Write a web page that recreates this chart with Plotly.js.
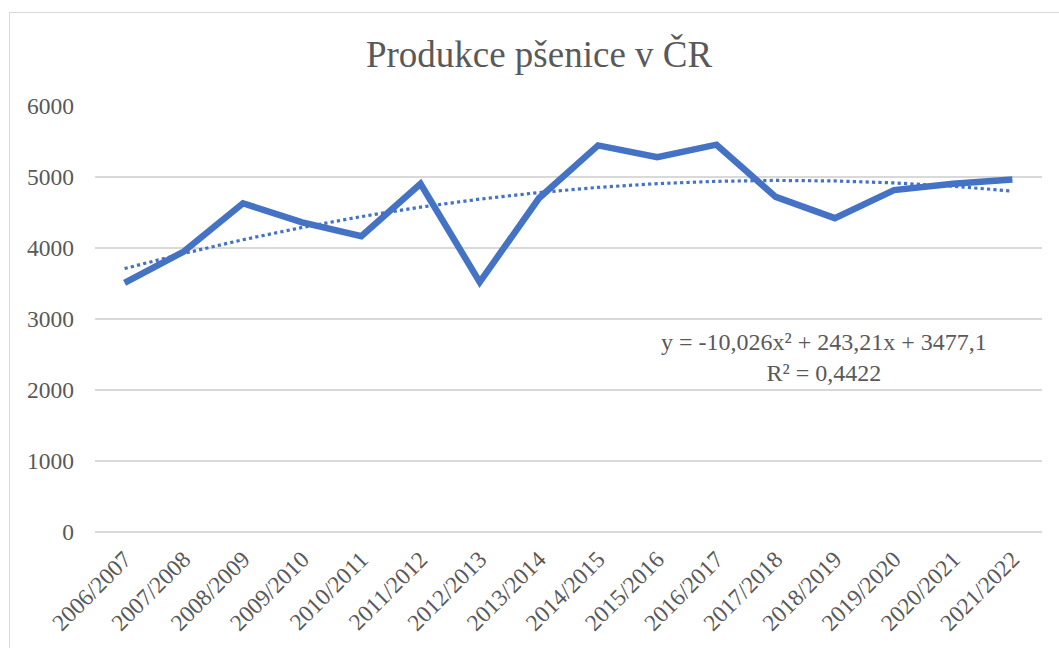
<!DOCTYPE html>
<html>
<head>
<meta charset="utf-8">
<script src="https://cdn.plot.ly/plotly-3.0.1.min.js"></script>
<style>
  html, body { margin: 0; padding: 0; background: #ffffff; overflow: hidden; }
  #chart { width: 1059px; height: 648px; position: relative; }
  #frame { position: absolute; left: 9px; top: 12px; width: 1060px; height: 650px;
           border: 1px solid #d9d9d9; box-sizing: border-box; pointer-events: none; }
</style>
</head>
<body>
<div id="chart"></div>
<div id="frame"></div>
<script>
// ---- data ----
const seasons = ["2006/2007","2007/2008","2008/2009","2009/2010","2010/2011","2011/2012",
                 "2012/2013","2013/2014","2014/2015","2015/2016","2016/2017","2017/2018",
                 "2018/2019","2019/2020","2020/2021","2021/2022"];
const production = [3510, 3950, 4630, 4360, 4165, 4905, 3520, 4700, 5445, 5280, 5455, 4720,
                    4420, 4815, 4905, 4965];
// polynomial trendline coefficients as printed on the chart: a*x^2 + b*x + c
const trendCoef = [-10.026, 243.21, 3477.1];
const equationText = "y = -10,026x² + 243,21x + 3477,1<br>R² = 0,4422";
const titleText = "Produkce pšenice v ČR";
const yTicks = [0, 1000, 2000, 3000, 4000, 5000, 6000];

const trendValues = seasons.map((s, i) => {
  const x = i + 1;
  return trendCoef[0] * x * x + trendCoef[1] * x + trendCoef[2];
});

const FONT = 'Liberation Serif';
const GREY = '#595959';
const BLUE = '#4472C4';

const traces = [
  {
    x: seasons, y: trendValues, type: 'scatter', mode: 'lines',
    line: { color: BLUE, width: 3.2, dash: 'dot' },
    hoverinfo: 'skip', showlegend: false
  },
  {
    x: seasons, y: production, type: 'scatter', mode: 'lines',
    line: { color: BLUE, width: 6.5, shape: 'linear' },
    showlegend: false
  }
];

const layout = {
  width: 1059, height: 648,
  margin: { l: 95, r: 17, t: 106, b: 116 },
  paper_bgcolor: '#ffffff', plot_bgcolor: '#ffffff',
  font: { family: FONT, color: GREY, size: 23.5 },
  title: {
    text: titleText,
    font: { family: FONT, size: 37, color: GREY },
    x: 0.509, xanchor: 'center', xref: 'container',
    y: 0.917, yanchor: 'middle'
  },
  xaxis: {
    type: 'category',
    range: [-0.5, 15.5],
    tickangle: -45,
    showgrid: false, zeroline: false, showline: false,
    ticks: '', ticklabelstandoff: 8,
    tickfont: { family: FONT, size: 23.5, color: GREY },
    fixedrange: true
  },
  yaxis: {
    range: [0, 6000],
    tickvals: yTicks,
    ticktext: yTicks.map(String),
    showgrid: true, gridcolor: '#d9d9d9', gridwidth: 1.5,
    zeroline: true, zerolinecolor: '#d9d9d9', zerolinewidth: 1.5,
    showline: false, ticks: '', ticklabelstandoff: 20,
    tickfont: { family: FONT, size: 23.5, color: GREY },
    fixedrange: true
  },
  annotations: [
    {
      text: equationText,
      xref: 'paper', yref: 'paper',
      x: 0.77, y: 0.41, xanchor: 'center', yanchor: 'middle',
      showarrow: false, align: 'center',
      font: { family: FONT, size: 24, color: GREY }
    }
  ],
  showlegend: false
};

Plotly.newPlot('chart', traces, layout, { displayModeBar: false, staticPlot: true });
</script>
</body>
</html>
